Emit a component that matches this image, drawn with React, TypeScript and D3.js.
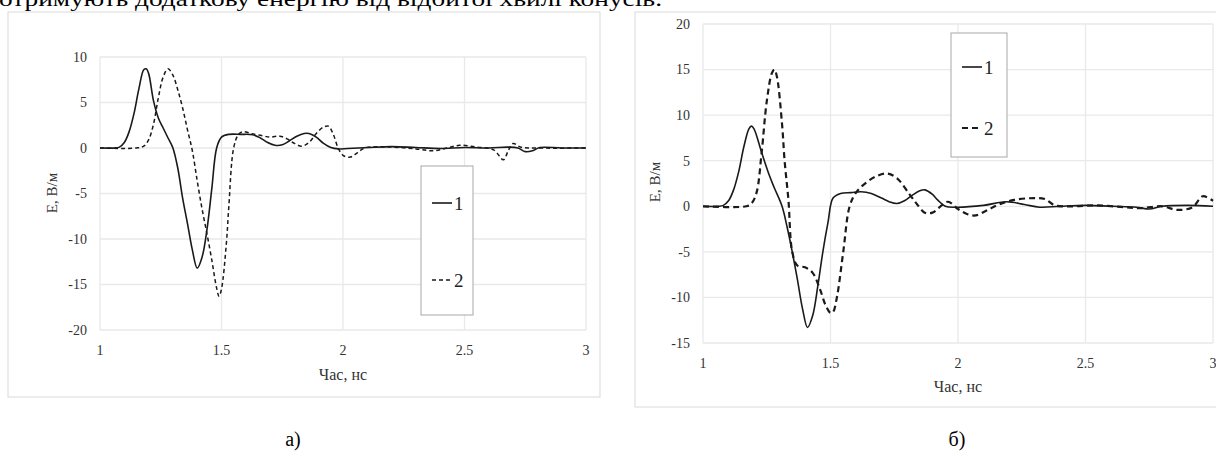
import React from 'react';
import { scaleLinear, line, curveCatmullRom } from 'd3';

// panel a) – time (ns) and field (V/m)
const tA1 = [1.0, 1.06, 1.08, 1.1, 1.12, 1.14, 1.16, 1.18, 1.19, 1.2, 1.22, 1.24, 1.26, 1.28, 1.3, 1.32, 1.34, 1.36, 1.38, 1.4, 1.42, 1.44, 1.46, 1.48, 1.5, 1.53, 1.58, 1.63, 1.66, 1.69, 1.72, 1.75, 1.78, 1.81, 1.84, 1.86, 1.89, 1.92, 1.95, 1.98, 2.02, 2.1, 2.2, 2.3, 2.4, 2.5, 2.6, 2.68, 2.72, 2.75, 2.78, 2.81, 2.9, 3.0];
const eA1 = [0, 0, 0.1, 0.6, 1.8, 3.8, 6.5, 8.6, 8.7, 8.2, 5.2, 3.3, 2.2, 1.1, 0, -2.2, -5.5, -8.3, -11.2, -13.2, -12.0, -9.0, -4.5, 0, 1.2, 1.5, 1.5, 1.45, 1.1, 0.6, 0.3, 0.35, 0.8, 1.3, 1.6, 1.6, 1.2, 0.5, 0.05, -0.1, -0.05, 0.05, 0.15, 0.05, -0.05, 0.05, 0, 0.1, 0, -0.4, -0.3, 0.05, 0, 0];
const tA2 = [1.0, 1.15, 1.18, 1.2, 1.22, 1.24, 1.26, 1.28, 1.3, 1.32, 1.34, 1.36, 1.38, 1.4, 1.42, 1.44, 1.46, 1.48, 1.49, 1.5, 1.52, 1.53, 1.55, 1.57, 1.59, 1.62, 1.66, 1.7, 1.74, 1.77, 1.8, 1.83, 1.86, 1.89, 1.92, 1.94, 1.96, 1.98, 2.0, 2.03, 2.06, 2.09, 2.2, 2.3, 2.37, 2.43, 2.48, 2.55, 2.62, 2.66, 2.68, 2.7, 2.73, 2.8, 3.0];
const eA2 = [0, 0, 0.2, 0.9, 2.6, 5.5, 7.8, 8.7, 8.0, 6.4, 4.4, 2.0, -0.3, -3.6, -6.7, -9.4, -12.3, -15.4, -16.3, -15.5, -10.5, -6.5, 0, 1.5, 1.8, 1.6, 1.4, 1.2, 1.3, 1.0, 0.5, 0.2, 0.6, 1.6, 2.3, 2.4, 1.5, 0, -0.8, -1.0, -0.5, 0, 0.1, -0.1, -0.3, 0, 0.3, 0.1, -0.2, -1.3, -0.3, 0.5, 0.1, 0, 0];

// panel б)
const tB1 = [1.0, 1.06, 1.08, 1.1, 1.12, 1.14, 1.16, 1.18, 1.19, 1.2, 1.23, 1.26, 1.28, 1.31, 1.33, 1.35, 1.37, 1.39, 1.41, 1.43, 1.45, 1.47, 1.49, 1.51, 1.54, 1.58, 1.62, 1.66, 1.7, 1.73, 1.76, 1.79, 1.82, 1.85, 1.87, 1.9, 1.92, 1.95, 2.0, 2.1, 2.19, 2.26, 2.32, 2.4, 2.5, 2.6, 2.7, 2.75, 2.8, 2.9, 3.0];
const eB1 = [0, 0, 0.1, 0.6, 1.8, 3.8, 6.5, 8.5, 8.8, 8.5, 5.9, 3.4, 2.0, 0, -2.3, -5.0, -8.0, -11.2, -13.3, -12.0, -8.8, -5.0, -1.8, 0.9, 1.4, 1.5, 1.6, 1.4, 0.9, 0.5, 0.3, 0.6, 1.2, 1.7, 1.8, 1.3, 0.7, 0, -0.1, 0.1, 0.5, 0.2, -0.1, 0, 0.1, 0, -0.1, -0.3, 0, 0.1, 0];
const tB2 = [1.0, 1.17, 1.19, 1.21, 1.23, 1.25, 1.27, 1.28, 1.29, 1.31, 1.32, 1.335, 1.35, 1.37, 1.4, 1.43, 1.46, 1.48, 1.5, 1.51, 1.525, 1.55, 1.575, 1.6, 1.64, 1.68, 1.72, 1.76, 1.81, 1.84, 1.87, 1.9, 1.96, 2.0, 2.04, 2.07, 2.11, 2.16, 2.22, 2.3, 2.34, 2.38, 2.45, 2.55, 2.65, 2.72, 2.8, 2.86, 2.92, 2.96, 3.0];
const eB2 = [0, 0, 0.3, 1.5, 5.9, 11.5, 14.6, 15.0, 14.2, 9.0, 5.0, 0.7, -5.0, -6.5, -6.7, -7.3, -9.2, -10.8, -11.7, -11.6, -10.0, -5.0, 0, 1.5, 2.6, 3.3, 3.6, 3.1, 1.3, 0.2, -0.7, -0.7, 0.5, -0.3, -0.9, -1.0, -0.5, 0.2, 0.7, 0.9, 0.8, 0.1, 0, 0.1, -0.1, -0.2, 0, -0.4, -0.1, 1.1, 0.6];

const xTicks = [1, 1.5, 2, 2.5, 3];
const yTicksA = [-20, -15, -10, -5, 0, 5, 10];
const yTicksB = [-15, -10, -5, 0, 5, 10, 15, 20];
const seriesNames = ['1', '2'];

const serif = '"Liberation Serif", "Times New Roman", serif';
const grid = '#e9e9e9';

type Pt = [number, number];
const zip = (t: number[], v: number[]): Pt[] => t.map((d, i) => [d, v[i]]);

function Panel(props: any) {
  const { frame, xRange, yRange, yDomain, yTicks, s1, s2, legend, yTitle, xTitle, tickSize, dash, dashWidth } = props;
  const x = scaleLinear().domain([1, 3]).range(xRange);
  const y = scaleLinear().domain(yDomain).range(yRange);
  const gen = line<Pt>()
    .x(d => x(d[0]))
    .y(d => y(d[1]))
    .curve(curveCatmullRom.alpha(0.5));
  const [y0, y1] = yRange;
  return (
    <g>
      <rect x={frame[0]} y={frame[1]} width={frame[2]} height={frame[3]} fill="#fff" stroke="#d9d9d9" strokeWidth={1} />
      {yTicks.map((t: number) => (
        <line key={'h' + t} x1={xRange[0]} x2={xRange[1]} y1={y(t)} y2={y(t)} stroke={grid} strokeWidth={1.3} />
      ))}
      {xTicks.map(t => (
        <line key={'v' + t} x1={x(t)} x2={x(t)} y1={y0} y2={y1} stroke={grid} strokeWidth={1.3} />
      ))}
      {yTicks.map((t: number) => (
        <text key={'yl' + t} x={xRange[0] - 13} y={y(t)} dy="0.35em" textAnchor="end" fontFamily={serif} fontSize={tickSize} fill="#333">
          {t}
        </text>
      ))}
      {xTicks.map(t => (
        <text key={'xl' + t} x={x(t)} y={y0 + 25} textAnchor="middle" fontFamily={serif} fontSize={tickSize} fill="#333">
          {t}
        </text>
      ))}
      <text x={x(2)} y={xTitle} textAnchor="middle" fontFamily={serif} fontSize={16} fill="#333">Час, нс</text>
      <text transform={`translate(${yTitle[0]},${yTitle[1]}) rotate(-90)`} textAnchor="middle" dy="0.35em" fontFamily={serif} fontSize={15} fill="#333">E, В/м</text>
      <path d={gen(zip(s1[0], s1[1])) || ''} fill="none" stroke="#1a1a1a" strokeWidth={1.6} />
      <path d={gen(zip(s2[0], s2[1])) || ''} fill="none" stroke="#1a1a1a" strokeWidth={dashWidth} strokeDasharray={dash} />
      <rect x={legend[0]} y={legend[1]} width={legend[2]} height={legend[3]} fill="#fff" stroke="#a8a8a8" strokeWidth={1} />
      {seriesNames.map((n, i) => {
        const ly = i === 0 ? legend[4] : legend[5];
        const lx = legend[0] + 11;
        return (
          <g key={n}>
            <line x1={lx} x2={lx + 20} y1={ly} y2={ly} stroke="#1a1a1a" strokeWidth={i === 0 ? 1.6 : dashWidth} strokeDasharray={i === 0 ? undefined : dash} />
            <text x={lx + 22} y={ly} dy="0.35em" fontFamily={serif} fontSize={19} fill="#222">{n}</text>
          </g>
        );
      })}
    </g>
  );
}

export default function App() {
  return (
    <div style={{ position: 'fixed', left: 0, top: 0 }}>
      <svg width={1216} height={457} style={{ display: 'block', background: '#fff' }}>
        <text x={-1} y={6} fontFamily={serif} fontSize={22} fill="#000" textLength={663} lengthAdjust="spacingAndGlyphs">
          отримують додаткову енергію від відбитої хвилі конусів.
        </text>
        <Panel
          frame={[8, 12, 592, 385]}
          xRange={[100, 586]}
          yRange={[330, 57]}
          yDomain={[-20, 10]}
          yTicks={yTicksA}
          s1={[tA1, eA1]}
          s2={[tA2, eA2]}
          legend={[421, 166, 52, 149, 203, 280]}
          yTitle={[52, 193]}
          xTitle={380}
          tickSize={14}
          dash="4,3"
          dashWidth={1.5}
        />
        <Panel
          frame={[635, 12, 600, 395]}
          xRange={[703, 1213]}
          yRange={[343, 24]}
          yDomain={[-15, 20]}
          yTicks={yTicksB}
          s1={[tB1, eB1]}
          s2={[tB2, eB2]}
          legend={[951, 33, 56, 124, 67, 128]}
          yTitle={[655, 182]}
          xTitle={392}
          tickSize={14}
          dash="6,4"
          dashWidth={2.2}
        />
        <text x={293} y={446} textAnchor="middle" fontFamily={serif} fontSize={20} fill="#000">а)</text>
        <text x={957} y={446} textAnchor="middle" fontFamily={serif} fontSize={20} fill="#000">б)</text>
      </svg>
    </div>
  );
}
